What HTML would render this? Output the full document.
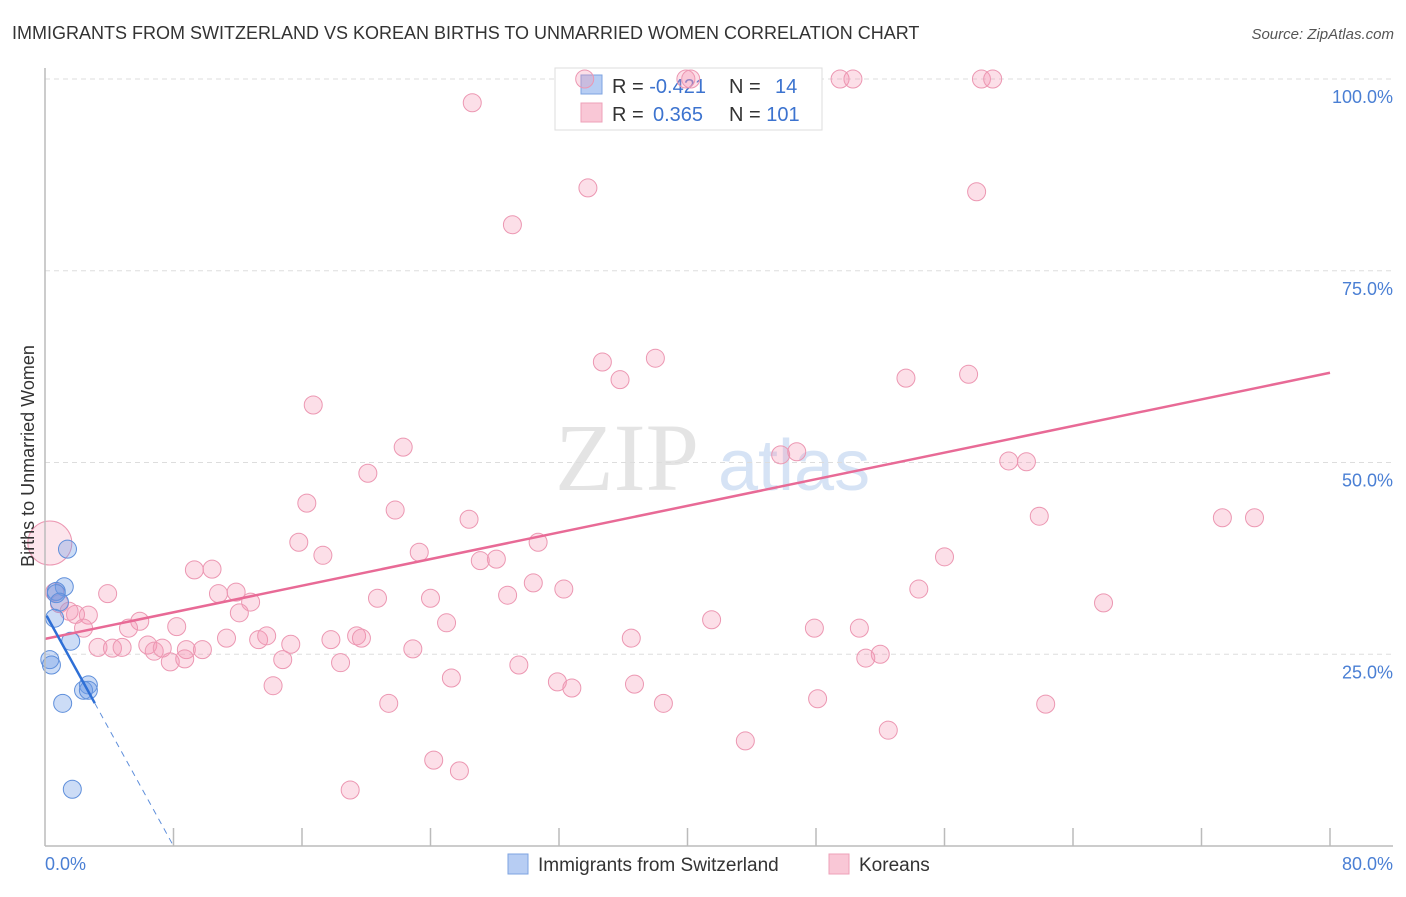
<!DOCTYPE html>
<html><head><meta charset="utf-8"><style>
body{margin:0;background:#fff;font-family:"Liberation Sans",sans-serif}
</style></head><body>
<svg id="chart" width="1406" height="892" xmlns="http://www.w3.org/2000/svg" style="font-family:'Liberation Sans',sans-serif">
<text x="12" y="39" font-size="18" fill="#333">IMMIGRANTS FROM SWITZERLAND VS KOREAN BIRTHS TO UNMARRIED WOMEN CORRELATION CHART</text>
<text x="1394" y="39" font-size="15" fill="#555" text-anchor="end" font-style="italic">Source: ZipAtlas.com</text>
<text x="555" y="490" font-size="96" fill="#e4e4e4" font-family="Liberation Serif,serif">ZIP</text>
<text x="718" y="490" font-size="72" fill="#d6e3f5">atlas</text>
<g id="grid"></g>
<g>
<rect x="555" y="68" width="267" height="62" fill="#fff" stroke="#ddd"/>
<rect x="581" y="75" width="21" height="19" fill="#b7cdf3" stroke="#7ea3e0"/>
<rect x="581" y="103" width="21" height="19" fill="#f9c7d6" stroke="#eea0b8"/>
<text x="612" y="93" font-size="20" fill="#333">R = <tspan fill="#3c73cf">-0.421</tspan></text>
<text x="729" y="93" font-size="20" fill="#333">N = <tspan fill="#3c73cf" x="775">14</tspan></text>
<text x="612" y="121" font-size="20" fill="#333">R = <tspan fill="#3c73cf" x="653">0.365</tspan></text>
<text x="729" y="121" font-size="20" fill="#333">N = <tspan fill="#3c73cf">101</tspan></text>
</g>
<g id="pts"></g><g id="trend"></g>
<line x1="45" y1="68" x2="45" y2="846" stroke="#bbb" stroke-width="1.5"/>
<line x1="45" y1="846" x2="1393" y2="846" stroke="#bbb" stroke-width="1.5"/>
<text transform="translate(34,456) rotate(-90)" font-size="18" fill="#333" text-anchor="middle">Births to Unmarried Women</text>
<text x="45" y="870" font-size="18" fill="#4a7fd4">0.0%</text>
<text x="1393" y="870" font-size="18" fill="#4a7fd4" text-anchor="end">80.0%</text>
<g>
<rect x="508" y="854" width="20" height="20" fill="#b7cdf3" stroke="#7ea3e0"/>
<text x="538" y="871" font-size="19" fill="#333">Immigrants from Switzerland</text>
<rect x="829" y="854" width="20" height="20" fill="#f9c7d6" stroke="#eea0b8"/>
<text x="859" y="871" font-size="19" fill="#333">Koreans</text>
</g>
</svg>
<script>
const yTicks=[25,50,75,100];
const xTicks=[8,16,24,32,40,48,56,64,72,80];
const pinkX=[33.6,39.9,40.2,49.5,50.3,58.3,59.0,26.6,33.8,29.1,58.0,34.7,38.0,35.8,53.6,57.5,16.7,22.3,20.1,45.8,46.8,60.0,61.1,16.3,21.8,26.4,61.9,73.3,75.3,15.8,17.3,23.3,30.7,27.1,28.1,56.0,9.3,10.4,3.9,10.8,11.9,12.8,20.7,24.0,28.8,30.4,32.3,54.4,65.9,5.9,5.2,8.2,12.1,25.0,41.5,47.9,50.7,2.7,1.9,2.4,0.6,0.9,1.5,3.3,4.2,4.8,6.4,6.8,7.3,8.8,9.8,11.3,13.3,13.8,15.3,17.8,19.4,19.7,22.9,36.5,7.8,8.7,14.8,18.4,29.5,25.3,31.9,32.8,36.7,14.2,21.4,38.5,48.1,51.1,52.0,62.3,52.5,43.6,24.2,25.8,19.0];
const pinkY=[100,100,100,100,100,100,100,96.9,85.8,81.0,85.3,63.1,63.6,60.8,61.0,61.5,57.5,52.0,48.6,51.0,51.4,50.2,50.1,44.7,43.8,42.6,43.0,42.8,42.8,39.6,37.9,38.3,39.6,37.2,37.4,37.7,36.0,36.1,32.9,32.9,33.1,31.8,32.3,32.3,32.7,34.3,33.5,33.5,31.7,29.3,28.4,28.6,30.4,29.1,29.5,28.4,28.4,30.1,30.2,28.4,33.1,31.6,30.6,25.9,25.8,25.9,26.2,25.4,25.8,25.6,25.6,27.1,26.9,27.4,26.3,26.9,27.4,27.1,25.7,27.1,24.0,24.4,24.3,23.9,23.6,21.9,21.4,20.6,21.1,20.9,18.6,18.6,19.2,24.5,25.0,18.5,15.1,13.7,11.2,9.8,7.3];
const blueX=[1.4,1.2,0.7,0.7,0.9,0.6,1.6,0.3,0.4,2.7,2.4,2.7,1.1,1.7];
const blueY=[38.7,33.8,33.2,32.9,31.8,29.7,26.7,24.3,23.6,21.0,20.3,20.3,18.6,7.4];
const bigX=[0.3], bigY=[39.5];
const pinkTrend=[27.0,61.7];
const blueTrend=[30.4,-3.8];
const sx=v=>45+v*1285/80, sy=v=>846-v*7.67;
const NS='http://www.w3.org/2000/svg';
function mk(tag,a,p){const e=document.createElementNS(NS,tag);for(const k in a)e.setAttribute(k,a[k]);p.appendChild(e);return e;}
const grid=document.getElementById('grid');
yTicks.forEach(t=>{
 const l=mk('line',{x1:45,x2:1393,y1:sy(t),y2:sy(t),stroke:'#ddd','stroke-dasharray':'5,4'},grid);
 
 
 const tx=mk('text',{x:1393,y:sy(t)+24,'font-size':18,fill:'#4a7fd4','text-anchor':'end'},grid);
 tx.textContent=t.toFixed(1)+'%';
 
 
});
xTicks.forEach(t=>{
 const l=mk('line',{x1:sx(t),x2:sx(t),y1:828,y2:846,stroke:'#bbb','stroke-width':1.5},grid);
 
 
});
const pts=document.getElementById('pts');
bigX.forEach((x,i)=>{
 const c=mk('circle',{cx:sx(x),cy:sy(bigY[i]),r:22,fill:'rgba(244,150,180,0.25)',stroke:'#ec97b2'},pts);
 
 
});
pinkX.forEach((x,i)=>{
 const c=mk('circle',{cx:sx(x),cy:sy(pinkY[i]),r:9,fill:'rgba(244,150,180,0.3)',stroke:'#ec97b2','stroke-width':1},pts);
 
 
});
blueX.forEach((x,i)=>{
 const c=mk('circle',{cx:sx(x),cy:sy(blueY[i]),r:9,fill:'rgba(110,155,230,0.35)',stroke:'#5f8fdb','stroke-width':1},pts);
 
 
});
const tr=document.getElementById('trend');
let l=mk('line',{x1:sx(0),y1:sy(pinkTrend[0]),x2:sx(80),y2:sy(pinkTrend[1]),stroke:'#e86a96','stroke-width':2.5},tr);


const bf=x=>blueTrend[0]+blueTrend[1]*x;
l=mk('line',{x1:sx(0.1),y1:sy(bf(0.1)),x2:sx(3.1),y2:sy(bf(3.1)),stroke:'#2e6fd6','stroke-width':2.5},tr);


l=mk('line',{x1:sx(3.1),y1:sy(bf(3.1)),x2:sx(8),y2:sy(bf(8)),stroke:'#5f8fdb','stroke-width':1,'stroke-dasharray':'6,5'},tr);


</script>
</body></html>
